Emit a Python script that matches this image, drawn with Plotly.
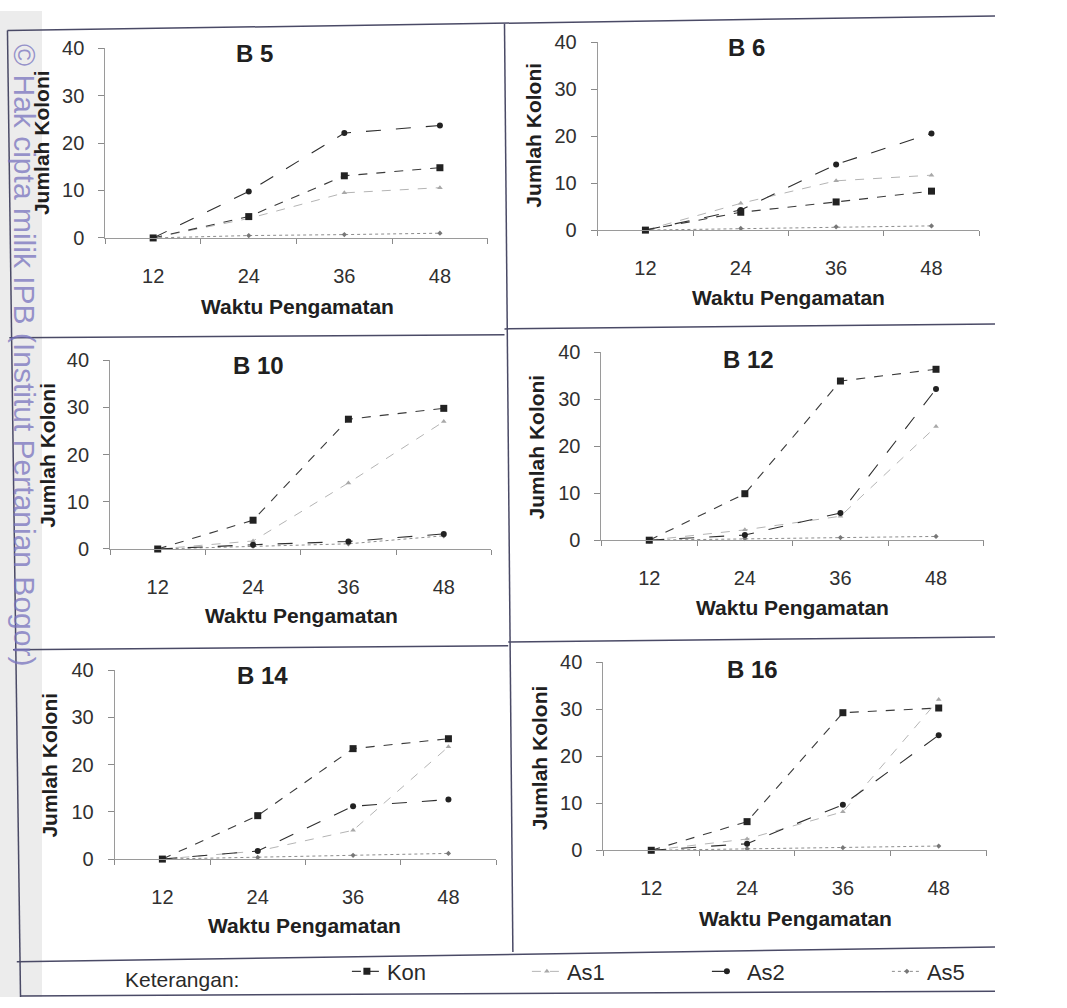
import plotly.graph_objects as go

W, H = 1067, 1008
FONT = "Arial, Liberation Sans, sans-serif"

# ---------------- data ----------------
hours = [12, 24, 36, 48]
hour_labels = ["12", "24", "36", "48"]
series_names = ["Kon", "As1", "As2", "As5"]
panel_titles = ["B 5", "B 6", "B 10", "B 12", "B 14", "B 16"]

b5_kon = [0, 4.5, 13.1, 14.8]
b5_as1 = [0, 4.1, 9.5, 10.6]
b5_as2 = [0, 9.8, 22.1, 23.7]
b5_as5 = [0, 0.5, 0.7, 1.0]

b6_kon = [0, 3.8, 6.0, 8.3]
b6_as1 = [0, 5.7, 10.5, 11.7]
b6_as2 = [0, 4.3, 14.0, 20.6]
b6_as5 = [0, 0.35, 0.7, 0.9]

b10_kon = [0, 6.1, 27.5, 29.8]
b10_as1 = [0, 1.7, 14.0, 27.0]
b10_as2 = [0, 0.9, 1.6, 3.2]
b10_as5 = [0, 0.6, 1.1, 2.8]

b12_kon = [0, 9.9, 33.9, 36.4]
b12_as1 = [0, 2.2, 5.1, 24.2]
b12_as2 = [0, 1.1, 5.8, 32.2]
b12_as5 = [0, 0.35, 0.55, 0.8]

b14_kon = [0, 9.2, 23.4, 25.5]
b14_as1 = [0, 1.7, 6.1, 23.8]
b14_as2 = [0, 1.7, 11.2, 12.6]
b14_as5 = [0, 0.35, 0.8, 1.2]

b16_kon = [0, 6.1, 29.3, 30.3]
b16_as1 = [0, 2.4, 8.2, 32.1]
b16_as2 = [0, 1.4, 9.7, 24.5]
b16_as5 = [0, 0.35, 0.55, 0.9]

panel_data = [
    {"Kon": b5_kon, "As1": b5_as1, "As2": b5_as2, "As5": b5_as5},
    {"Kon": b6_kon, "As1": b6_as1, "As2": b6_as2, "As5": b6_as5},
    {"Kon": b10_kon, "As1": b10_as1, "As2": b10_as2, "As5": b10_as5},
    {"Kon": b12_kon, "As1": b12_as1, "As2": b12_as2, "As5": b12_as5},
    {"Kon": b14_kon, "As1": b14_as1, "As2": b14_as2, "As5": b14_as5},
    {"Kon": b16_kon, "As1": b16_as1, "As2": b16_as2, "As5": b16_as5},
]

# ---------------- layout geometry (pixels) ----------------
# (x_left, x_right, y_top(40), y_bottom(0))
panel_box = [
    (113, 523, 38, 232),
    (641, 1050, 32, 224),
    (118, 527, 357, 550),
    (645, 1055, 349, 541),
    (123, 532, 674, 867),
    (647, 1058, 666, 858),
]
title_pos = [(273, 43), (800, 37), (277, 362), (803, 356), (282, 679), (807, 673)]
xtitle_pos = [(319, 302), (846, 293), (323, 618), (850, 610), (327, 935), (853, 928)]
ytitle_pos = [(44, 135), (572, 127), (51, 454), (575, 446), (53, 771), (578, 763)]

styles = {
    "Kon": dict(line=dict(color="#3a3a3a", width=1.1, dash="dash"),
                marker=dict(symbol="square", size=7, color="#222222")),
    "As1": dict(line=dict(color="#b4b4b4", width=1.0, dash="dash"),
                marker=dict(symbol="triangle-up", size=5, color="#a8a8a8")),
    "As2": dict(line=dict(color="#2e2e2e", width=1.1, dash="longdash"),
                marker=dict(symbol="circle", size=6, color="#222222")),
    "As5": dict(line=dict(color="#8c8c8c", width=1.0, dash="dot"),
                marker=dict(symbol="diamond", size=4, color="#777777")),
}
draw_order = ["As5", "As1", "As2", "Kon"]
legend_rank = {"Kon": 1, "As1": 2, "As2": 3, "As5": 4}


def fx(x):
    return x / W


def fy(y):
    return 1 - y / H


def note(text, x, y, size, color="#202020", angle=0):
    return dict(text=text, x=fx(x), y=fy(y), xref="paper", yref="paper",
                xanchor="center", yanchor="middle", showarrow=False,
                textangle=angle, font=dict(size=size, family=FONT, color=color))


fig = go.Figure()

for i, data in enumerate(panel_data):
    sfx = "" if i == 0 else str(i + 1)
    for s in draw_order:
        fig.add_trace(go.Scatter(
            x=hours, y=data[s], mode="lines+markers", name=s,
            legendgroup=s, showlegend=(i == 0), legendrank=legend_rank[s],
            xaxis="x" + sfx, yaxis="y" + sfx, cliponaxis=False,
            line=styles[s]["line"], marker=styles[s]["marker"],
        ))

layout = dict(
    width=W, height=H, margin=dict(l=0, r=0, t=0, b=0),
    paper_bgcolor="white", plot_bgcolor="rgba(0,0,0,0)",
    font=dict(family=FONT, color="#2a2a2a"),
    showlegend=True,
    legend=dict(orientation="h", x=372 / W, xanchor="left", y=fy(982), yanchor="middle",
                font=dict(size=22, family=FONT, color="#2a2a2a"),
                entrywidth=135, entrywidthmode="pixels", itemwidth=30,
                bgcolor="rgba(0,0,0,0)", traceorder="normal"),
)

annotations = []
for i, (x0, x1, yt, yb) in enumerate(panel_box):
    sfx = "" if i == 0 else str(i + 1)
    layout["xaxis" + sfx] = dict(
        domain=[fx(x0), fx(x1)], range=[6, 54], anchor="y" + sfx,
        tickmode="array", tickvals=hours, ticktext=hour_labels, ticks="",
        showline=True, linecolor="#9a9a9a", linewidth=1,
        showgrid=False, zeroline=False, ticklabelstandoff=20,
        tickfont=dict(size=20, family=FONT, color="#303030"),
        minor=dict(ticks="outside", tick0=6, dtick=12, ticklen=5,
                   tickcolor="#8a8a8a", showgrid=False),
        fixedrange=True,
    )
    layout["yaxis" + sfx] = dict(
        domain=[fy(yb), fy(yt)], range=[0, 40], anchor="x" + sfx,
        tickmode="array", tickvals=[0, 10, 20, 30, 40], ticks="outside",
        ticklen=6, tickcolor="#8a8a8a", showline=True, linecolor="#9a9a9a",
        linewidth=1, showgrid=False, zeroline=False, ticklabelstandoff=10,
        tickfont=dict(size=20, family=FONT, color="#303030"),
        fixedrange=True,
    )
    annotations.append(note("<b>%s</b>" % panel_titles[i], *title_pos[i], 24))
    annotations.append(note("<b>Waktu Pengamatan</b>", *xtitle_pos[i], 21))
    annotations.append(note("<b>Jumlah Koloni</b>", *ytitle_pos[i], 21, angle=-90))

annotations.append(note("Keterangan:", 195, 990, 21, color="#2a2a2a"))
annotations.append(note("© Hak cipta milik IPB (Institut Pertanian Bogor)", 26, 352, 30,
                        color="rgba(120,115,190,0.75)", angle=90))
layout["annotations"] = annotations

frame_color = "#4a4a66"
frame_lines = [
    (8, 20, 22, 1008),
    (8, 20, 1067, 5),
    (541, 13, 550, 962),
    (10, 334, 541, 331),
    (541, 325, 1067, 320),
    (14, 653, 545, 649),
    (545, 645, 1067, 640),
    (18, 972, 1067, 957),
    (22, 1007, 1067, 1002),
]
shapes = [dict(type="rect", xref="paper", yref="paper", x0=0, x1=fx(45), y0=0, y1=1,
               fillcolor="#ececec", line=dict(width=0), layer="below")]
for (a, b, c, d) in frame_lines:
    shapes.append(dict(type="line", xref="paper", yref="paper", x0=fx(a), y0=fy(b),
                       x1=fx(c), y1=fy(d), line=dict(color=frame_color, width=1.5),
                       layer="below"))
layout["shapes"] = shapes

fig.update_layout(**layout)
fig.write_html("out.html", config={"displayModeBar": False},
               post_script="document.body.style.margin='0';document.body.style.overflow='hidden';")
